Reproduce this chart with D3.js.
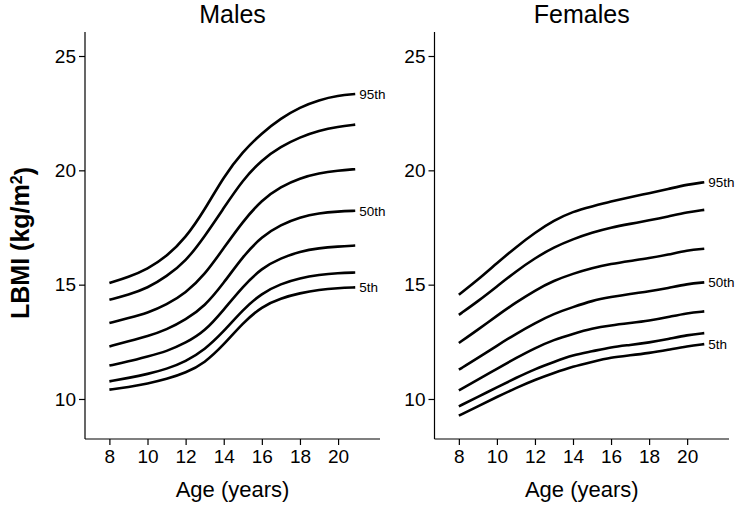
<!DOCTYPE html>
<html>
<head>
<meta charset="utf-8">
<script src="https://d3js.org/d3.v7.min.js"></script>
<style>
	body { margin: 0; background: #fff; }
	text { font-family: "Liberation Sans", Arial, Helvetica, sans-serif; fill: #000; }
</style>
</head>
<body>
<script>

	var w = 738;
	var h = 507;

	// ages (years) at which the curves are read
	var ages = [8, 9, 10, 11, 12, 13, 14, 15, 16, 17, 18, 19, 20, 20.9];
	var percentiles = ["95th", "90th", "75th", "50th", "25th", "10th", "5th"];
	var labelled = ["95th", "50th", "5th"];
	var xTicks = [8, 10, 12, 14, 16, 18, 20];
	var yTicks = [10, 15, 20, 25];

	// males LBMI (kg/m2)
	var malesP95 = [15.07, 15.33, 15.68, 16.23, 17.04, 18.27, 19.73, 20.82, 21.63, 22.28, 22.76, 23.08, 23.27, 23.34];
	var malesP90 = [14.34, 14.56, 14.85, 15.36, 16.01, 17.11, 18.35, 19.58, 20.46, 21.04, 21.45, 21.74, 21.91, 22.00];
	var malesP75 = [13.32, 13.54, 13.76, 14.12, 14.63, 15.43, 16.60, 17.76, 18.71, 19.29, 19.66, 19.88, 19.99, 20.05];
	var malesP50 = [12.30, 12.52, 12.74, 13.03, 13.47, 14.05, 15.07, 16.23, 17.11, 17.62, 17.95, 18.13, 18.20, 18.23];
	var malesP25 = [11.46, 11.64, 11.86, 12.08, 12.45, 12.95, 13.90, 14.92, 15.73, 16.16, 16.45, 16.60, 16.67, 16.71];
	var malesP10 = [10.77, 10.92, 11.09, 11.31, 11.64, 12.15, 12.95, 13.90, 14.63, 15.04, 15.29, 15.43, 15.51, 15.53];
	var malesP5  = [10.41, 10.52, 10.67, 10.87, 11.14, 11.57, 12.37, 13.32, 14.05, 14.41, 14.63, 14.78, 14.85, 14.88];

	// females LBMI (kg/m2)
	var femalesP95 = [14.56, 15.21, 15.94, 16.64, 17.28, 17.81, 18.20, 18.42, 18.64, 18.83, 19.00, 19.18, 19.38, 19.48];
	var femalesP90 = [13.68, 14.27, 14.92, 15.58, 16.16, 16.64, 16.99, 17.28, 17.50, 17.66, 17.81, 17.98, 18.17, 18.27];
	var femalesP75 = [12.45, 13.03, 13.64, 14.22, 14.75, 15.18, 15.48, 15.73, 15.91, 16.04, 16.16, 16.31, 16.50, 16.57];
	var femalesP50 = [11.28, 11.79, 12.33, 12.85, 13.32, 13.73, 14.02, 14.30, 14.46, 14.60, 14.70, 14.85, 15.03, 15.10];
	var femalesP25 = [10.38, 10.84, 11.32, 11.79, 12.23, 12.59, 12.85, 13.09, 13.22, 13.32, 13.42, 13.58, 13.76, 13.83];
	var femalesP10 = [9.68, 10.09, 10.51, 10.92, 11.31, 11.62, 11.92, 12.08, 12.27, 12.36, 12.47, 12.62, 12.80, 12.88];
	var femalesP5  = [9.27, 9.68, 10.09, 10.48, 10.84, 11.14, 11.42, 11.62, 11.82, 11.91, 12.01, 12.15, 12.30, 12.40];

	var malesCurves = [malesP95, malesP90, malesP75, malesP50, malesP25, malesP10, malesP5];
	var femalesCurves = [femalesP95, femalesP90, femalesP75, femalesP50, femalesP25, femalesP10, femalesP5];

	var svg = d3.select("body")
		.append("svg")
		.attr("width", w)
		.attr("height", h);

	var plotTop = 32, plotBottom = 439;

	var yScale = d3.scaleLinear()
		.domain([8.25, 26.05])
		.range([plotBottom, plotTop]);

	function panel(title, curves, left, right) {
		var xScale = d3.scaleLinear()
			.domain([6.72, 22.2])
			.range([left, right]);

		var g = svg.append("g");

		// y axis
		var yAxis = d3.axisLeft(yScale)
			.tickValues(yTicks)
			.tickSize(6)
			.tickPadding(3)
			.tickSizeOuter(0);
		var ya = g.append("g")
			.attr("transform", "translate(" + left + ",0)")
			.call(yAxis);
		ya.select(".domain").attr("d", "M0," + plotTop + "V" + plotBottom);

		// x axis
		var xAxis = d3.axisBottom(xScale)
			.tickValues(xTicks)
			.tickSize(6)
			.tickPadding(5)
			.tickSizeOuter(0);
		var xa = g.append("g")
			.attr("transform", "translate(0," + plotBottom + ")")
			.call(xAxis);
		xa.select(".domain").attr("d", "M" + left + ",0H" + right);

		g.selectAll(".domain, .tick line")
			.attr("stroke", "#000")
			.attr("stroke-width", 1.2);
		g.selectAll(".tick text")
			.style("font-size", "19px")
			.attr("fill", "#000");

		// title
		g.append("text")
			.attr("x", (left + right) / 2)
			.attr("y", 23)
			.attr("text-anchor", "middle")
			.attr("font-size", "25px")
			.text(title);

		// x label
		g.append("text")
			.attr("x", (left + right) / 2)
			.attr("y", 497)
			.attr("text-anchor", "middle")
			.attr("font-size", "22px")
			.text("Age (years)");

		var line = d3.line()
			.x(function(d, i) { return xScale(ages[i]); })
			.y(function(d) { return yScale(d); })
			.curve(d3.curveBasis);

		g.selectAll("path.curve")
			.data(curves)
			.enter()
			.append("path")
			.attr("class", "curve")
			.attr("d", line)
			.attr("fill", "none")
			.attr("stroke", "#000")
			.attr("stroke-width", 2.6);

		g.selectAll("text.pct")
			.data(curves.filter(function(d, i) { return labelled.indexOf(percentiles[i]) >= 0; }))
			.enter()
			.append("text")
			.attr("class", "pct")
			.attr("x", xScale(ages[ages.length - 1]) + 4)
			.attr("y", function(d) { return yScale(d[d.length - 1]); })
			.attr("dy", "0.35em")
			.attr("font-size", "13.5px")
			.text(function(d) { return percentiles[curves.indexOf(d)]; });
	}

	panel("Males", malesCurves, 85, 380);
	panel("Females", femalesCurves, 434.5, 729);

	// shared y label
	var yl = svg.append("text")
		.attr("transform", "translate(29,243) rotate(-90)")
		.attr("text-anchor", "middle")
		.attr("font-size", "25px")
		.attr("font-weight", "bold");
	yl.append("tspan").text("LBMI (kg/m");
	yl.append("tspan").attr("dy", "-0.45em").attr("font-size", "16px").text("2");
	yl.append("tspan").attr("dy", "0.45em").text(")");

</script>
</body>
</html>
